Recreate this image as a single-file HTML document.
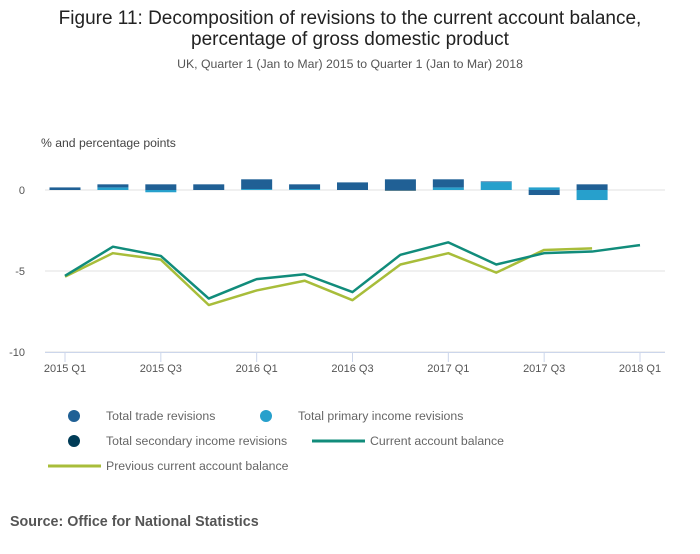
<!DOCTYPE html>
<html><head><meta charset="utf-8">
<style>
body{margin:0;background:#fff;}
svg text{font-family:"Liberation Sans",sans-serif;}
</style></head>
<body>
<svg id="chart" width="700" height="549" xmlns="http://www.w3.org/2000/svg">
<text x="350" y="24" text-anchor="middle" font-size="19" fill="#222">Figure 11: Decomposition of revisions to the current account balance,</text>
<text x="350" y="45" text-anchor="middle" font-size="19" fill="#222">percentage of gross domestic product</text>
<text x="350" y="68" text-anchor="middle" font-size="12.3" fill="#555">UK, Quarter 1 (Jan to Mar) 2015 to Quarter 1 (Jan to Mar) 2018</text>
<text x="41" y="147" font-size="12.2" fill="#444">% and percentage points</text>
<g id="grid"></g>
<g id="bars"></g>
<g id="lines"></g>
<g id="xaxis"></g>
<g>
<circle cx="74" cy="416" r="6" fill="#206095"/>
<text x="106" y="420" font-size="12.3" fill="#666">Total trade revisions</text>
<circle cx="266" cy="416" r="6" fill="#27a0cc"/>
<text x="298" y="420" font-size="12.3" fill="#666">Total primary income revisions</text>
<circle cx="74" cy="441" r="6" fill="#003c57"/>
<text x="106" y="445" font-size="12.3" fill="#666">Total secondary income revisions</text>
<line x1="312" y1="441" x2="365" y2="441" stroke="#118c7b" stroke-width="3"/>
<text x="370" y="445" font-size="12.3" fill="#666">Current account balance</text>
<line x1="48" y1="466" x2="101" y2="466" stroke="#a8bd3a" stroke-width="3"/>
<text x="106" y="470" font-size="12.3" fill="#666">Previous current account balance</text>
</g>
<text x="10" y="526" font-size="14.3" font-weight="bold" fill="#555">Source: Office for National Statistics</text>
</svg>
<script>
const categories=["2015 Q1","2015 Q2","2015 Q3","2015 Q4","2016 Q1","2016 Q2","2016 Q3","2016 Q4","2017 Q1","2017 Q2","2017 Q3","2017 Q4","2018 Q1"];
const tradeRev=[0.16,0.19,0.35,0.35,0.6,0.29,0.47,0.66,0.5,0.04,-0.31,0.35,0];
const primaryRev=[0,0.16,-0.14,0,0.06,0.06,0,0,0.16,0.49,0.16,-0.62,0];
const secondaryRev=[0,0,0,0,0,0,0,-0.04,0,0,0,0,0];
const currentBal=[-5.3,-3.5,-4.07,-6.7,-5.5,-5.2,-6.3,-4.0,-3.23,-4.6,-3.9,-3.8,-3.4];
const previousBal=[-5.35,-3.9,-4.3,-7.1,-6.2,-5.6,-6.8,-4.6,-3.9,-5.1,-3.7,-3.6,null];
const yTicks=[0,-5,-10];
const xTickIdx=[0,2,4,6,8,10,12];

const NS="http://www.w3.org/2000/svg";
const x=i=>65+i*(575/12);
const y=v=>190-v*16.2;
function mk(tag,attrs,parent){const e=document.createElementNS(NS,tag);for(const k in attrs)e.setAttribute(k,attrs[k]);document.getElementById(parent).appendChild(e);return e;}

yTicks.forEach(t=>{
  const l=mk('line',{x1:45,x2:665,y1:y(t),y2:y(t),stroke:'#e0e0e0','stroke-width':1},'grid');
  
  
  const tx=mk('text',{x:25,y:y(t)+4,'text-anchor':'end','font-size':11,fill:'#555'},'grid');
  tx.textContent=t;
  
  
});
const ax=mk('line',{x1:45,x2:665,y1:352.5,y2:352.5,stroke:'#ccd6eb','stroke-width':1},'xaxis');


xTickIdx.forEach(i=>{
  const t=mk('line',{x1:x(i),x2:x(i),y1:352,y2:362,stroke:'#ccd6eb'},'xaxis');
  
  
  const tx=mk('text',{x:x(i),y:372,'text-anchor':'middle','font-size':11,fill:'#555'},'xaxis');
  tx.textContent=categories[i];
  
  
});

const series=[[secondaryRev,'#003c57','bar-secondary'],[primaryRev,'#27a0cc','bar-primary'],[tradeRev,'#206095','bar-trade']];
categories.forEach((c,i)=>{
  let pos=0,neg=0;
  series.forEach(([arr,col,name])=>{
    const v=arr[i];if(!v)return;
    let a,b;
    if(v>0){a=pos;b=pos+v;pos=b;}else{a=neg;b=neg+v;neg=b;}
    const top=y(Math.max(a,b)),bot=y(Math.min(a,b));
    const r=mk('rect',{x:x(i)-15.5,y:top,width:31,height:Math.max(bot-top,0.5),fill:col},'bars');
    
    
  });
});

function line(arr,col,name){
  let d='';let started=false;
  arr.forEach((v,i)=>{if(v===null)return;d+=(started?'L':'M')+x(i)+','+y(v);started=true;});
  const p=mk('path',{d:d,fill:'none',stroke:col,'stroke-width':2.5,'stroke-linejoin':'round'},'lines');
  
  
}
line(previousBal,'#a8bd3a','line-previous-current-account');
line(currentBal,'#118c7b','line-current-account');
</script>
</body></html>
